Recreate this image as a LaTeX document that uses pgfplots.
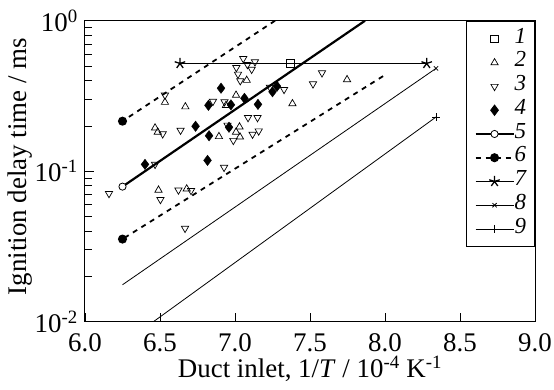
\documentclass[border=0pt]{standalone}
\usepackage{fontspec}
\setmainfont{Liberation Serif}
\usepackage{pgfplots}
\pgfplotsset{compat=1.18}
\pgfplotsset{myleg/.style={legend image code/.code={\draw[mark repeat=2,mark phase=2,##1] plot coordinates {(0bp,0bp) (19bp,0bp) (38bp,0bp)};}}}
\begin{document}
\begin{tikzpicture}
\begin{axis}[
  name=ax,
  scale only axis, width=450bp, height=301bp,
  font=\fontsize{27}{30}\selectfont,
  ymode=log, xmin=6, xmax=9, ymin=0.01, ymax=1,
  xtick={6,6.5,7,7.5,8,8.5,9},
  xticklabels={6.0,6.5,7.0,7.5,8.0,8.5,9.0},
  ytick={0.01,0.1,1},
  yticklabels={10\textsuperscript{-2},10\textsuperscript{-1},10\textsuperscript{0}},
  minor ytick={0.02,0.03,0.04,0.05,0.06,0.07,0.08,0.09,0.2,0.3,0.4,0.5,0.6,0.7,0.8,0.9},
  tick label style={font=\fontsize{27}{30}\selectfont, inner sep=0pt},
  xticklabel shift=12bp,
  yticklabel shift=7bp,
  tick pos=left, tick align=inside,
  major tick length=9bp, minor tick length=7bp,
  every tick/.style={black, line width=0.8bp},
  axis line style={line width=1bp},
  xlabel={Duct inlet, 1/\textit{T} / 10\textsuperscript{-4} K\textsuperscript{-1}},
  ylabel={Ignition delay time / ms},
  xlabel style={at={(axis description cs:0.5,-0.184)}, anchor=base, inner sep=0pt},
  ylabel style={at={(axis description cs:-0.144,0.515)}, anchor=center, inner sep=0pt},
  legend style={at={(rel axis cs:1,1)}, anchor=north east, draw=black, line width=0.8bp,
    font=\fontsize{23}{23}\selectfont\itshape, inner xsep=8.5bp, inner ysep=6bp,
    nodes={inner sep=0pt, text height=16bp, text depth=7.75bp},
    /tikz/every even column/.append style={column sep=13bp}},
  legend cell align=left,
]
% 1
\addplot[only marks, mark=square, mark size=3.8bp, black, line width=0.7bp, myleg] coordinates {(7.367,0.522)};
\addlegendentry{1}
% 2
\addplot[only marks, mark=triangle, mark size=4.2bp, black, line width=0.7bp, mark options={fill=white}, myleg] coordinates {
(6.533,0.287) (6.669,0.268) (6.467,0.194) (6.485,0.182) (6.49,0.0749) (6.678,0.0763)
(7.007,0.320) (6.94,0.274) (7.078,0.402) (7.03,0.197) (7.007,0.182) (7.033,0.169)
(6.893,0.170) (7.383,0.281) (7.747,0.406)
};
\addlegendentry{2}
% 3
\addplot[only marks, mark=triangle, mark size=4.2bp, black, line width=0.7bp, mark options={fill=white, rotate=180}, myleg] coordinates {
(6.533,0.320) (6.518,0.177) (6.637,0.187) (6.467,0.111) (6.16,0.0710) (6.503,0.0648)
(6.623,0.0749) (6.707,0.0744) (6.667,0.0417) (6.927,0.106) (7.055,0.560) (7.083,0.511)
(7.133,0.533) (7.111,0.475) (7.009,0.488) (7.02,0.441) (7.035,0.399) (6.853,0.291)
(6.93,0.289) (7.087,0.227) (7.15,0.227) (6.95,0.202) (6.989,0.160) (7.117,0.176)
(7.158,0.185) (7.233,0.361) (7.327,0.349) (7.52,0.380) (7.58,0.450)
};
\addlegendentry{3}
% 4
\addplot[only marks, mark=diamond*, mark size=5.2bp, black, myleg] coordinates {
(6.4,0.111) (6.737,0.199) (6.823,0.274) (6.827,0.172) (6.817,0.118) (6.907,0.356)
(6.96,0.196) (6.973,0.276) (7.063,0.305) (7.153,0.278) (7.25,0.337) (7.28,0.367)
};
\addlegendentry{4}
% 5
\addplot[black, line width=2.2bp, mark=*, mark size=3.6bp, mark options={fill=white, line width=0.8bp}, mark indices={2}, myleg] coordinates {(7.867,1.0) (6.25,0.079)};
\addlegendentry{5}
% 6
\addplot[black, line width=1.8bp, dash pattern=on 5bp off 5bp, mark=*, mark size=3.6bp, mark options={solid}, mark indices={2}, myleg] coordinates {(7.267,1.0) (6.25,0.215)};
\addlegendentry{6}
\addplot[black, line width=1.8bp, dash pattern=on 5bp off 5bp, mark=*, mark size=3.6bp, mark options={solid}, mark indices={2}, forget plot] coordinates {(7.987,0.428) (6.25,0.0354)};
% 7
\addplot[black, line width=0.8bp, mark=star, mark size=5.5bp, mark options={line width=1.3bp}, myleg] coordinates {(6.633,0.52) (8.278,0.52)};
\addlegendentry{7}
% 8
\addplot[black, line width=0.8bp, mark=x, mark size=3bp, mark indices={2}, myleg] coordinates {(6.25,0.0176) (8.34,0.482)};
\addlegendentry{8}
% 9
\addplot[black, line width=0.8bp, mark=+, mark size=4bp, mark indices={2}, myleg] coordinates {(6.456,0.01) (8.34,0.229)};
\addlegendentry{9}
\end{axis}
\pgfresetboundingbox
\path[use as bounding box] ([xshift=-85bp,yshift=-68.3bp]ax.south west) rectangle ([xshift=19bp,yshift=20.7bp]ax.north east);
\end{tikzpicture}
\end{document}
